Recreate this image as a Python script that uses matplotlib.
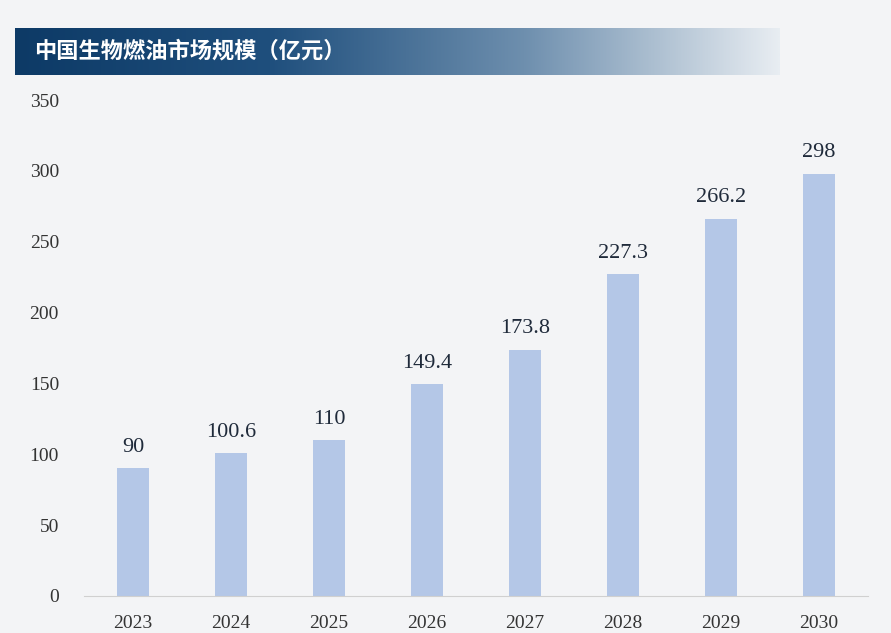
import matplotlib
matplotlib.use("Agg")
import matplotlib.pyplot as plt
import numpy as np
from matplotlib.colors import LinearSegmentedColormap

years = ["2023", "2024", "2025", "2026", "2027", "2028", "2029", "2030"]
values = [90, 100.6, 110, 149.4, 173.8, 227.3, 266.2, 298]
labels = ["90", "100.6", "110", "149.4", "173.8", "227.3", "266.2", "298"]
title = "中国生物燃油市场规模（亿元）"

fig = plt.figure(figsize=(8.91, 6.33), dpi=100)
fig.patch.set_facecolor("#f3f4f6")

bax = fig.add_axes([15/891, 1-75/633, 765/891, 47/633])
grad = np.linspace(0, 1, 256)[None, :]
cm = LinearSegmentedColormap.from_list("b", ["#0d3a66", "#1f4f7d", "#6e8fae", "#e8edf2"])
bax.imshow(grad, aspect="auto", cmap=cm, extent=[0, 1, 0, 1])
bax.axis("off")
bax.text(0.025, 0.5, title, color="white", fontsize=16, fontweight="bold",
         family=["Noto Sans CJK SC", "DejaVu Sans"], va="center", ha="left")

ax = fig.add_axes([84/891, 1-596/633, 784/891, 496/633])
ax.set_facecolor("none")
x = np.arange(len(years))
ax.bar(x, values, width=0.33, color="#b4c7e7")
for xi, v, l in zip(x, values, labels):
    ax.text(xi, v + 8, l, ha="center", va="bottom", fontsize=16,
            family="Liberation Serif", color="#1f2a3a")
ax.set_xlim(-0.5, 7.5)
ax.set_ylim(0, 350)
ax.set_yticks(range(0, 351, 50))
ax.set_xticks(x)
ax.set_xticklabels(years)
for lab in ax.get_xticklabels() + ax.get_yticklabels():
    lab.set_family("Liberation Serif")
    lab.set_fontsize(14)
    lab.set_color("#333333")
ax.tick_params(length=0)
ax.tick_params(axis="x", pad=14)
ax.tick_params(axis="y", pad=18)
for s in ["top", "right", "left"]:
    ax.spines[s].set_visible(False)
ax.spines["bottom"].set_color("#d0d0d0")

fig.savefig("out.png", dpi=100, facecolor=fig.get_facecolor())
